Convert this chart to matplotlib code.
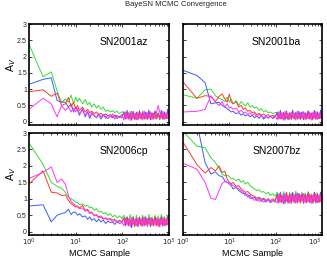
import matplotlib
matplotlib.use("Agg")
import matplotlib.pyplot as plt
from matplotlib.ticker import LogLocator, FixedLocator, NullFormatter

plt.rcParams['font.family'] = ['Liberation Sans', 'DejaVu Sans']

# MCMC sample indices (shared by all chains)
samples = [1, 2, 3, 4, 5, 6, 7, 8, 9, 10,
           11, 12, 14, 16, 18, 20, 22, 25, 28, 31, 35, 39, 44, 49, 55, 62, 69, 77, 87, 97,
           108, 117, 126, 136, 147, 159, 171, 185, 200, 216, 233, 252, 272, 294, 317,
           343, 370, 400, 432, 466, 503, 544, 587, 634, 685, 740, 799, 863, 932, 1000]

names = ["SN2001az", "SN2001ba", "SN2006cp", "SN2007bz"]

# ---- SN2001az ----
az_green = [2.38, 1.38, 1.53, 0.95, 0.58, 0.7, 0.6, 0.82, 0.55, 0.75,
            0.62, 0.72, 0.55, 0.68, 0.52, 0.6, 0.45, 0.55, 0.42, 0.5, 0.38, 0.45, 0.32, 0.36, 0.3, 0.34, 0.28, 0.32, 0.25, 0.3,
            0.3, 0.12, 0.28, 0.1, 0.32, 0.14, 0.26, 0.08, 0.3, 0.12, 0.27, 0.1, 0.33, 0.13, 0.28,
            0.09, 0.3, 0.12, 0.26, 0.1, 0.31, 0.14, 0.27, 0.09, 0.3, 0.12, 0.28, 0.1, 0.32, 0.15]
az_blue = [1.15, 1.3, 1.35, 0.65, 0.6, 0.6, 0.45, 0.55, 0.3, 0.45,
           0.35, 0.2, 0.4, 0.15, 0.3, 0.1, 0.25, 0.18, 0.12, 0.22, 0.08, 0.2, 0.15, 0.1, 0.18, 0.12, 0.2, 0.1, 0.16, 0.12,
           0.3, 0.08, 0.35, 0.1, 0.25, 0.05, 0.32, 0.12, 0.28, 0.06, 0.34, 0.1, 0.26, 0.08, 0.3,
           0.12, 0.36, 0.06, 0.28, 0.1, 0.33, 0.08, 0.27, 0.12, 0.35, 0.07, 0.3, 0.1, 0.38, 0.12]
az_red = [0.92, 0.98, 0.78, 0.88, 0.5, 0.55, 0.75, 0.45, 0.6, 0.4,
          0.5, 0.35, 0.45, 0.3, 0.38, 0.28, 0.32, 0.25, 0.3, 0.22, 0.26, 0.2, 0.24, 0.18, 0.22, 0.16, 0.2, 0.18, 0.15, 0.2,
          0.25, 0.1, 0.28, 0.08, 0.22, 0.12, 0.3, 0.06, 0.26, 0.1, 0.24, 0.08, 0.28, 0.12, 0.22,
          0.07, 0.27, 0.1, 0.25, 0.08, 0.3, 0.11, 0.24, 0.06, 0.28, 0.1, 0.23, 0.09, 0.27, 0.12]
az_magenta = [0.38, 0.72, 0.55, 0.15, 0.5, 0.35, 0.45, 0.3, 0.42, 0.3,
              0.4, 0.25, 0.35, 0.2, 0.32, 0.15, 0.28, 0.2, 0.12, 0.25, 0.15, 0.22, 0.1, 0.2, 0.14, 0.25, 0.08, 0.2, 0.12, 0.22,
              0.05, 0.3, 0.08, 0.28, 0.04, 0.32, 0.1, 0.26, 0.06, 0.3, 0.12, 0.27, 0.05, 0.33, 0.08,
              0.28, 0.1, 0.31, 0.06, 0.26, 0.09, 0.3, 0.5, 0.29, 0.11, 0.32, 0.07, 0.27, 0.1, 0.3]

# ---- SN2001ba ----
ba_green = [0.83, 0.72, 0.98, 1.0, 0.8, 0.72, 0.68, 0.62, 0.75, 0.6,
            0.7, 0.55, 0.65, 0.5, 0.62, 0.55, 0.48, 0.58, 0.45, 0.5, 0.42, 0.45, 0.35, 0.4, 0.3, 0.35, 0.28, 0.3, 0.25, 0.28,
            0.28, 0.12, 0.25, 0.1, 0.3, 0.14, 0.26, 0.08, 0.28, 0.12, 0.24, 0.1, 0.3, 0.13, 0.27,
            0.09, 0.29, 0.12, 0.25, 0.1, 0.31, 0.14, 0.26, 0.09, 0.3, 0.12, 0.27, 0.1, 0.3, 0.14]
ba_blue = [1.58, 1.42, 1.2, 0.55, 0.58, 0.6, 0.5, 0.45, 0.4, 0.35,
           0.3, 0.32, 0.25, 0.28, 0.2, 0.25, 0.18, 0.22, 0.15, 0.2, 0.12, 0.18, 0.1, 0.2, 0.08, 0.16, 0.12, 0.18, 0.1, 0.15,
           0.3, 0.08, 0.35, 0.1, 0.28, 0.05, 0.33, 0.12, 0.27, 0.07, 0.36, 0.1, 0.26, 0.08, 0.32,
           0.12, 0.3, 0.06, 0.28, 0.1, 0.34, 0.08, 0.27, 0.12, 0.35, 0.07, 0.3, 0.1, 0.36, 0.12]
ba_red = [1.22, 0.72, 0.8, 0.78, 0.62, 0.78, 0.85, 0.7, 0.6, 0.85,
          0.6, 0.55, 0.62, 0.45, 0.5, 0.38, 0.42, 0.32, 0.35, 0.28, 0.3, 0.22, 0.26, 0.2, 0.24, 0.18, 0.22, 0.15, 0.2, 0.16,
          0.24, 0.1, 0.27, 0.08, 0.22, 0.12, 0.3, 0.06, 0.25, 0.1, 0.24, 0.08, 0.28, 0.12, 0.22,
          0.07, 0.26, 0.1, 0.25, 0.08, 0.29, 0.11, 0.24, 0.06, 0.27, 0.1, 0.23, 0.09, 0.26, 0.12]
ba_magenta = [0.3, 0.32, 0.38, 0.8, 0.6, 0.5, 0.62, 0.45, 0.55, 0.42,
              0.45, 0.38, 0.42, 0.3, 0.35, 0.28, 0.3, 0.22, 0.28, 0.2, 0.25, 0.15, 0.22, 0.18, 0.12, 0.2, 0.1, 0.18, 0.12, 0.2,
              0.06, 0.3, 0.08, 0.28, 0.05, 0.32, 0.1, 0.26, 0.07, 0.3, 0.12, 0.27, 0.05, 0.33, 0.08,
              0.28, 0.1, 0.31, 0.06, 0.26, 0.09, 0.3, 0.05, 0.29, 0.11, 0.32, 0.07, 0.27, 0.1, 0.3]

# ---- SN2006cp ----
cp_green = [2.7, 2.05, 1.5, 1.38, 1.32, 1.2, 1.05, 1.0, 0.95, 0.9,
            0.88, 0.82, 0.85, 0.78, 0.8, 0.72, 0.75, 0.65, 0.7, 0.6, 0.62, 0.55, 0.58, 0.5, 0.55, 0.45, 0.5, 0.42, 0.48, 0.4,
            0.5, 0.28, 0.45, 0.25, 0.52, 0.3, 0.46, 0.22, 0.5, 0.28, 0.44, 0.25, 0.5, 0.3, 0.47,
            0.24, 0.52, 0.28, 0.45, 0.25, 0.5, 0.3, 0.48, 0.22, 0.52, 0.28, 0.46, 0.26, 0.5, 0.3]
cp_blue = [0.78, 0.82, 0.3, 0.5, 0.55, 0.58, 0.68, 0.52, 0.6, 0.58,
           0.5, 0.55, 0.45, 0.48, 0.38, 0.45, 0.35, 0.4, 0.3, 0.38, 0.3, 0.35, 0.25, 0.32, 0.28, 0.3, 0.22, 0.32, 0.25, 0.28,
           0.4, 0.18, 0.45, 0.2, 0.35, 0.12, 0.42, 0.2, 0.38, 0.15, 0.45, 0.2, 0.36, 0.18, 0.42,
           0.22, 0.4, 0.15, 0.38, 0.2, 0.44, 0.18, 0.37, 0.22, 0.45, 0.17, 0.4, 0.2, 0.46, 0.22]
cp_red = [1.45, 1.85, 1.2, 1.18, 1.1, 1.12, 0.95, 0.85, 0.8, 0.75,
          0.78, 0.72, 0.8, 0.65, 0.68, 0.58, 0.6, 0.5, 0.52, 0.45, 0.48, 0.4, 0.42, 0.38, 0.4, 0.35, 0.38, 0.3, 0.35, 0.3,
          0.42, 0.2, 0.4, 0.18, 0.38, 0.22, 0.45, 0.15, 0.4, 0.2, 0.38, 0.18, 0.44, 0.22, 0.38,
          0.16, 0.42, 0.2, 0.4, 0.18, 0.45, 0.21, 0.38, 0.15, 0.43, 0.2, 0.38, 0.19, 0.42, 0.22]
cp_magenta = [1.62, 1.8, 1.97, 1.5, 1.6, 1.45, 1.1, 0.92, 0.85, 0.8,
              0.75, 0.7, 0.72, 0.62, 0.65, 0.55, 0.58, 0.48, 0.5, 0.42, 0.45, 0.38, 0.4, 0.35, 0.38, 0.3, 0.35, 0.28, 0.32, 0.3,
              0.18, 0.42, 0.2, 0.4, 0.15, 0.44, 0.22, 0.38, 0.18, 0.42, 0.24, 0.4, 0.16, 0.45, 0.2,
              0.4, 0.22, 0.43, 0.18, 0.38, 0.2, 0.42, 0.16, 0.4, 0.22, 0.44, 0.18, 0.39, 0.21, 0.42]

# ---- SN2007bz ----
bz_green = [3.05, 2.6, 2.55, 2.25, 2.1, 1.94, 1.75, 1.7, 1.72, 1.68,
            1.6, 1.62, 1.55, 1.6, 1.5, 1.55, 1.45, 1.5, 1.4, 1.35, 1.3, 1.25, 1.28, 1.2, 1.22, 1.15, 1.2, 1.1, 1.15, 1.08,
            1.2, 0.95, 1.18, 0.92, 1.22, 0.98, 1.15, 0.9, 1.2, 0.96, 1.17, 0.93, 1.23, 0.97, 1.16,
            0.9, 1.2, 0.95, 1.18, 0.92, 1.22, 0.98, 1.15, 0.9, 1.2, 0.94, 1.17, 0.92, 1.2, 0.96]
bz_blue = [4.0, 3.3, 2.1, 1.75, 1.82, 1.7, 1.68, 1.55, 1.5, 1.45,
           1.4, 1.3, 1.35, 1.25, 1.2, 1.15, 1.18, 1.05, 1.1, 1.0, 1.05, 0.95, 1.02, 0.92, 1.0, 0.9, 0.98, 0.88, 0.95, 0.9,
           1.15, 0.88, 1.2, 0.9, 1.1, 0.85, 1.18, 0.92, 1.12, 0.86, 1.2, 0.9, 1.1, 0.88, 1.16,
           0.92, 1.14, 0.86, 1.12, 0.9, 1.18, 0.88, 1.1, 0.92, 1.2, 0.87, 1.14, 0.9, 1.2, 0.92]
bz_red = [2.72, 2.04, 1.78, 1.95, 1.85, 2.0, 1.8, 1.84, 1.6, 1.5,
          1.45, 1.5, 1.38, 1.4, 1.3, 1.25, 1.2, 1.22, 1.15, 1.1, 1.08, 1.02, 1.05, 0.98, 1.02, 0.95, 1.0, 0.94, 1.0, 0.95,
          1.1, 0.9, 1.15, 0.88, 1.08, 0.92, 1.18, 0.86, 1.12, 0.9, 1.1, 0.88, 1.16, 0.92, 1.08,
          0.87, 1.14, 0.9, 1.12, 0.88, 1.17, 0.91, 1.1, 0.86, 1.15, 0.9, 1.1, 0.89, 1.14, 0.92]
bz_magenta = [2.08, 1.9, 1.5, 1.02, 0.98, 1.25, 1.47, 1.52, 1.5, 1.48,
              1.45, 1.4, 1.35, 1.3, 1.25, 1.2, 1.1, 1.15, 1.0, 1.05, 0.95, 1.0, 0.92, 0.98, 0.9, 0.95, 1.0, 0.9, 0.95, 0.92,
              0.88, 1.15, 0.9, 1.12, 0.85, 1.18, 0.92, 1.1, 0.87, 1.16, 0.93, 1.12, 0.86, 1.18, 0.9,
              1.12, 0.92, 1.16, 0.88, 1.1, 0.9, 1.15, 0.86, 1.12, 0.93, 1.18, 0.88, 1.11, 0.91, 1.15]

chains = [
    [az_green, az_blue, az_red, az_magenta],
    [ba_green, ba_blue, ba_red, ba_magenta],
    [cp_green, cp_blue, cp_red, cp_magenta],
    [bz_green, bz_blue, bz_red, bz_magenta],
]
colors = ['#33dd33', '#3d5cff', '#ff3b2a', '#ff33ff']

yticks = [0, 0.5, 1, 1.5, 2, 2.5, 3]
ytick_labels = ["0", "0.5", "1", "1.5", "2", "2.5", "3"]
xticks = [1, 10, 100, 1000]
xtick_labels = [r"$10^{0}$", r"$10^{1}$", r"$10^{2}$", r"$10^{3}$"]

W, H = 327, 257
fig = plt.figure(figsize=(W / 100, H / 100), dpi=100)

boxes = [(29, 24, 169, 125), (183, 24, 322, 125),
         (29, 133, 169, 235), (183, 133, 322, 235)]

for i, (x0, y0, x1, y1) in enumerate(boxes):
    ax = fig.add_axes([x0 / W, 1 - y1 / H, (x1 - x0) / W, (y1 - y0) / H])
    for vals, c in zip(chains[i], colors):
        ax.plot(samples, vals, color=c, lw=0.7)
    ax.set_xscale('log')
    ax.set_xlim(1, 1000)
    ax.set_ylim(-0.1, 3)
    ax.xaxis.set_major_locator(FixedLocator(xticks))
    ax.xaxis.set_minor_locator(LogLocator(base=10, subs=range(2, 10)))
    ax.xaxis.set_minor_formatter(NullFormatter())
    ax.set_yticks(yticks)
    ax.tick_params(which='both', direction='in', top=True, right=True,
                   labelsize=5, pad=1.5, width=0.6, colors='#222222')
    ax.tick_params(which='major', length=2.5)
    ax.tick_params(which='minor', length=1.5)
    if i % 2 == 0:
        ax.set_yticklabels(ytick_labels)
        ax.set_ylabel(r"A$_V$", fontsize=7.5)
        ax.yaxis.set_label_coords(-0.075, 0.6)
    else:
        ax.set_yticklabels([])
    if i >= 2:
        labels = ax.set_xticklabels(xtick_labels)
        if i == 3:
            labels[-1].set_horizontalalignment('right')
        ax.set_xlabel("MCMC Sample", fontsize=6.5, labelpad=0.5)
    else:
        ax.set_xticklabels([])
    for s in ax.spines.values():
        s.set_linewidth(1.2)
    ax.text(0.85, 0.82, names[i], transform=ax.transAxes, ha='right', va='center',
            fontsize=7.5)

fig.text(176 / W, 1 - 5 / H, "BayeSN MCMC Convergence", ha='center', va='center',
         fontsize=5.5, color='#222222')

fig.savefig("out.png", dpi=100)
